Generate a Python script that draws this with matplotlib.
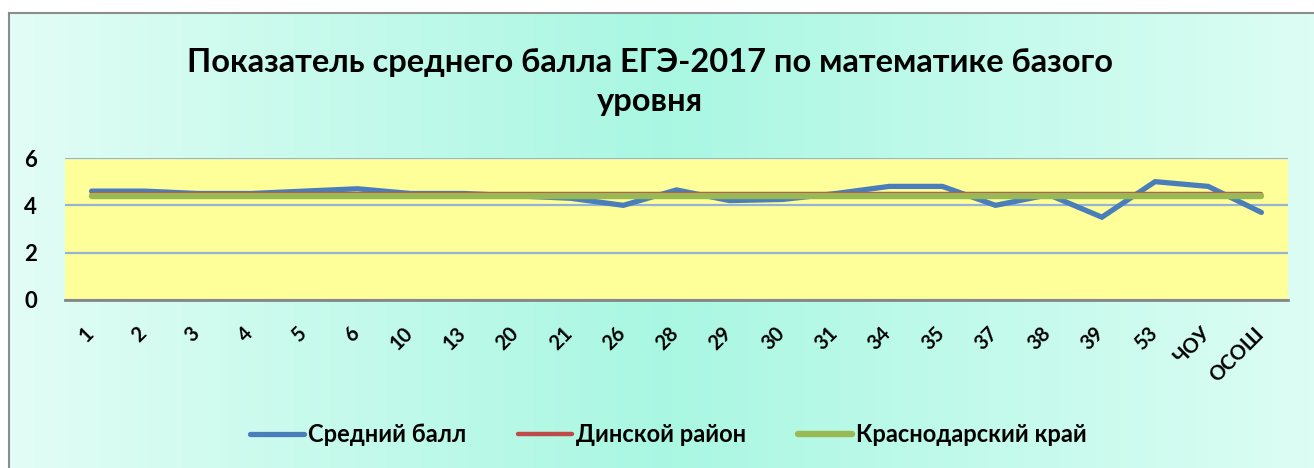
import numpy as np
import matplotlib.pyplot as plt
import matplotlib.transforms as mtransforms
from matplotlib.colors import LinearSegmentedColormap

plt.rcParams['font.family'] = ['Lato', 'DejaVu Sans']

# data
schools = ['1', '2', '3', '4', '5', '6', '10', '13', '20', '21', '26', '28', '29',
           '30', '31', '34', '35', '37', '38', '39', '53', 'ЧОУ', 'ОСОШ']
avg_score = [4.6, 4.6, 4.5, 4.5, 4.6, 4.7, 4.5, 4.5, 4.4, 4.3, 4.0, 4.65, 4.2,
             4.25, 4.5, 4.8, 4.8, 4.0, 4.45, 3.5, 5.0, 4.8, 3.7]
district = [4.5] * len(schools)
region = [4.4] * len(schools)
y_ticks = [0, 2, 4, 6]

W, H = 1314, 468
fig = plt.figure(figsize=(W / 100, H / 100), dpi=100)
fig.patch.set_facecolor('white')

# gradient background of the chart frame
bg = fig.add_axes([9 / W, 0, 1 - 9 / W, 1 - 13 / H])
cmap = LinearSegmentedColormap.from_list('bg', ['#e2fdf5', '#a9f7e2', '#dcfdf4'])
bg.imshow(np.linspace(0, 1, 256)[None, :], aspect='auto', cmap=cmap, extent=[0, 1, 0, 1])
bg.set_xticks([])
bg.set_yticks([])
for s in bg.spines.values():
    s.set_color('#8c8c8c')
    s.set_linewidth(1.5)
bg.spines['right'].set_visible(False)
bg.spines['bottom'].set_visible(False)

ax = fig.add_axes([65 / W, 1 - 300 / H, (1288 - 65) / W, (300 - 158) / H])
ax.set_facecolor('#ffff99')
x = np.arange(len(schools))
ax.plot(x, avg_score, color='#4a7ebb', lw=3.8, solid_capstyle='round',
        solid_joinstyle='miter', label='Средний балл', zorder=3)
ax.plot(x, district, color='#be4b48', lw=3.2, solid_capstyle='round',
        label='Динской район', zorder=4)
ax.plot(x, region, color='#98b954', lw=4.6, solid_capstyle='round',
        label='Краснодарский край', zorder=5)

ax.set_xlim(-0.5, len(schools) - 0.5)
ax.set_ylim(0, 6)
ax.set_yticks(y_ticks)
ax.set_yticklabels([str(t) for t in y_ticks], fontsize=16, fontweight='bold')
ax.yaxis.grid(True, color='#95b3d7', lw=1.6)
ax.set_axisbelow(True)
ax.tick_params(axis='y', length=0, pad=20)
ax.tick_params(axis='x', length=0, pad=17)
ax.set_xticks(x)
ax.set_xticklabels(schools, rotation=45, ha='right', va='top',
                   fontsize=14.5, fontweight='bold')
shift = mtransforms.ScaledTranslation(6 / 100, 0, fig.dpi_scale_trans)
for lab in ax.get_xticklabels():
    lab.set_transform(lab.get_transform() + shift)
for name in ['top', 'left', 'right']:
    ax.spines[name].set_visible(False)
ax.spines['bottom'].set_color('#868686')
ax.spines['bottom'].set_linewidth(2)

fig.text(0.495, 1 - 82 / H, 'Показатель среднего балла ЕГЭ-2017 по математике базого\nуровня',
         ha='center', va='center', fontsize=23.5, fontweight='bold', linespacing=1.45)

fig.legend(loc='center', bbox_to_anchor=(668 / W, 1 - 435 / H), ncol=3, frameon=False,
           prop={'size': 17, 'weight': 'bold'}, handlelength=2.3, handletextpad=0.15,
           columnspacing=2.2)

fig.savefig('out.png', dpi=100, facecolor='white')
